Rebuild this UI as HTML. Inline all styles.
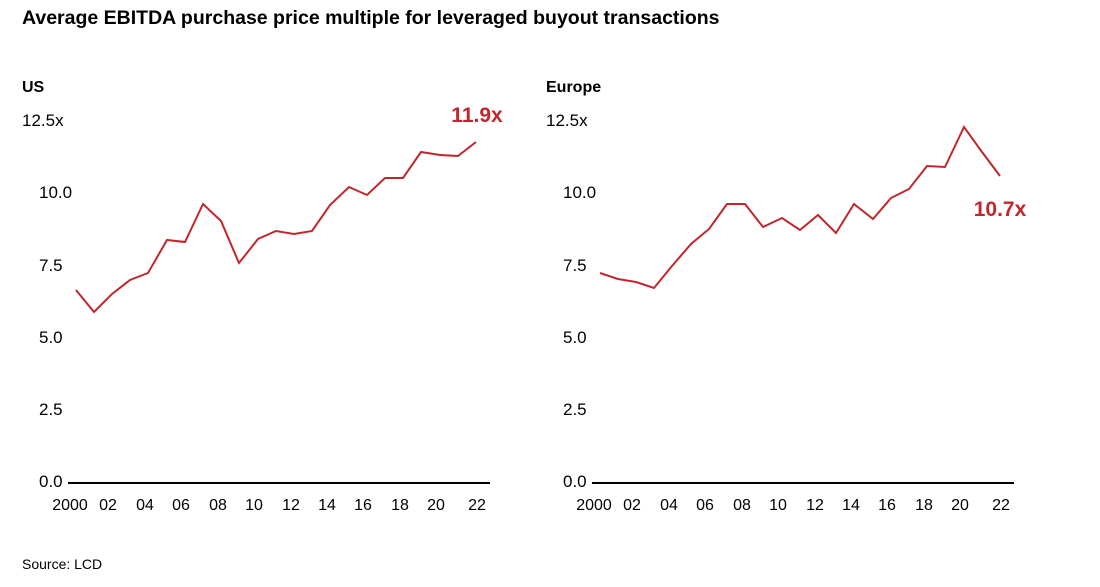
<!DOCTYPE html>
<html><head><meta charset="utf-8"><style>
body{margin:0;background:#fff;}
svg text{font-family:"Liberation Sans",Arial,sans-serif;}
</style></head><body>
<svg width="1100" height="582" viewBox="0 0 1100 582" xmlns="http://www.w3.org/2000/svg">
<rect width="1100" height="582" fill="#fff"/>
<text x="22" y="24" font-size="19.5" font-weight="bold" fill="#000">Average EBITDA purchase price multiple for leveraged buyout transactions</text>
<text x="22" y="92" font-size="16" font-weight="bold">US</text>
<text x="546" y="92" font-size="16" font-weight="bold">Europe</text>
<g font-size="17" fill="#000">
<text x="22" y="126">12.5x</text><text x="39" y="198">10.0</text><text x="39" y="271">7.5</text>
<text x="39" y="343">5.0</text><text x="39" y="415">2.5</text><text x="39" y="487">0.0</text>
<text x="546" y="126">12.5x</text><text x="563" y="198">10.0</text><text x="563" y="271">7.5</text>
<text x="563" y="343">5.0</text><text x="563" y="415">2.5</text><text x="563" y="487">0.0</text>
</g>
<line x1="68" y1="483" x2="490" y2="483" stroke="#000" stroke-width="2"/>
<line x1="592" y1="483" x2="1014" y2="483" stroke="#000" stroke-width="2"/>
<g font-size="16" text-anchor="middle">
<text x="70" y="510">2000</text><text x="108" y="510">02</text><text x="145" y="510">04</text><text x="181" y="510">06</text><text x="218" y="510">08</text><text x="254" y="510">10</text><text x="291" y="510">12</text><text x="327" y="510">14</text><text x="363" y="510">16</text><text x="400" y="510">18</text><text x="436" y="510">20</text><text x="477" y="510">22</text>
<text x="594" y="510">2000</text><text x="632" y="510">02</text><text x="669" y="510">04</text><text x="705" y="510">06</text><text x="742" y="510">08</text><text x="778" y="510">10</text><text x="815" y="510">12</text><text x="851" y="510">14</text><text x="887" y="510">16</text><text x="924" y="510">18</text><text x="960" y="510">20</text><text x="1001" y="510">22</text>
</g>
<polyline fill="none" stroke="#c0272d" stroke-width="2" points="76,290 94,312 112,294 130,280 148,273 167,240 185,242 203,204 221,221 239,263 258,239 276,231 294,234 312,231 330,205 349,187 367,195 385,178 403,178 421,152 440,155 458,156 476,142"/>
<polyline fill="none" stroke="#c0272d" stroke-width="2" points="600,273 618,279 636,282 654,288 672,266 691,244 709,229 727,204 745,204 763,227 782,218 800,230 818,215 836,233 854,204 873,219 891,198 909,189 927,166 945,167 964,127 982,152 1000,176"/>
<text x="477" y="122" font-size="21" font-weight="bold" fill="#c0272d" text-anchor="middle">11.9x</text>
<text x="1000" y="216" font-size="21" font-weight="bold" fill="#c0272d" text-anchor="middle">10.7x</text>
<text x="22" y="569" font-size="14">Source: LCD</text>
</svg>
</body></html>
